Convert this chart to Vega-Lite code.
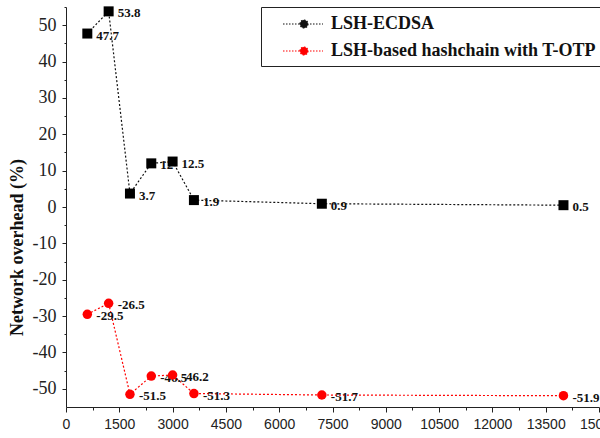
{
  "$schema": "https://vega.github.io/schema/vega-lite/v6.json",
  "width": 533,
  "height": 400,
  "autosize": "none",
  "padding": {"left": 66, "top": 7, "right": 1, "bottom": 31},
  "background": "white",
  "config": {
    "view": {"stroke": null},
    "axis": {"grid": false, "domainColor": "#222", "tickColor": "#222", "labelColor": "#222", "domainWidth": 1, "tickWidth": 1}
  },
  "data": {
    "values": [
      {"x": 600, "y": 47.7, "series": "LSH-ECDSA"},
      {"x": 1200, "y": 53.8, "series": "LSH-ECDSA"},
      {"x": 1800, "y": 3.7, "series": "LSH-ECDSA"},
      {"x": 2400, "y": 12, "series": "LSH-ECDSA"},
      {"x": 3000, "y": 12.5, "series": "LSH-ECDSA"},
      {"x": 3600, "y": 1.9, "series": "LSH-ECDSA"},
      {"x": 7200, "y": 0.9, "series": "LSH-ECDSA"},
      {"x": 14000, "y": 0.5, "series": "LSH-ECDSA"},
      {"x": 600, "y": -29.5, "series": "LSH-based hashchain with T-OTP"},
      {"x": 1200, "y": -26.5, "series": "LSH-based hashchain with T-OTP"},
      {"x": 1800, "y": -51.5, "series": "LSH-based hashchain with T-OTP"},
      {"x": 2400, "y": -46.5, "series": "LSH-based hashchain with T-OTP"},
      {"x": 3000, "y": -46.2, "series": "LSH-based hashchain with T-OTP"},
      {"x": 3600, "y": -51.3, "series": "LSH-based hashchain with T-OTP"},
      {"x": 7200, "y": -51.7, "series": "LSH-based hashchain with T-OTP"},
      {"x": 14000, "y": -51.9, "series": "LSH-based hashchain with T-OTP"}
    ]
  },
  "resolve": {"axis": {"x": "independent", "y": "independent"}},
  "layer": [
    {
      "mark": {"type": "line", "strokeDash": [2, 2], "strokeWidth": 1.2},
      "encoding": {
        "x": {
          "field": "x", "type": "quantitative",
          "scale": {"domain": [0, 15000], "nice": false, "zero": false},
          "axis": {"orient": "bottom", "values": [0, 1500, 3000, 4500, 6000, 7500, 9000, 10500, 12000, 13500, 15000], "tickSize": 5, "labelFont": "Liberation Sans", "labelFontSize": 14, "labelPadding": 5, "labelFlush": false, "labelOverlap": false, "title": null, "labelExpr": "'' + datum.value"}
        },
        "y": {
          "field": "y", "type": "quantitative",
          "scale": {"domain": [-55, 55], "nice": false, "zero": false},
          "axis": {"orient": "left", "values": [-50, -40, -30, -20, -10, 0, 10, 20, 30, 40, 50], "tickSize": 4, "labelFont": "Liberation Serif", "labelFontSize": 18, "labelPadding": 6, "labelExpr": "'' + datum.value", "title": "Network overhead (%)", "titleFont": "Liberation Serif", "titleFontSize": 18, "titleFontWeight": "bold", "titleColor": "#111", "titleAngle": -90, "titleX": -49, "titleY": 240, "titleAlign": "center", "titleBaseline": "middle", "titleLimit": 400}
        },
        "color": {
          "field": "series", "type": "nominal",
          "scale": {"domain": ["LSH-ECDSA", "LSH-based hashchain with T-OTP"], "range": ["#111111", "#ff0000"]},
          "legend": {
            "orient": "none", "legendX": 195, "legendY": 0, "title": null,
            "symbolType": "M0.5,0H4.5M2.2,0A0.4,0.4,0,1,1,3.0,0A0.4,0.4,0,1,1,2.2,0Z",
            "symbolSize": 400, "symbolStrokeWidth": 1.2, "symbolDash": [1.5, 1.5],
            "labelFont": "Liberation Serif", "labelFontSize": 18, "labelFontWeight": "bold", "labelColor": "#111", "labelLimit": 400, "labelOffset": 42,
            "strokeColor": "#222", "fillColor": "white", "padding": 6, "rowPadding": 7,
            "encode": {"symbols": {"update": {"fill": {"scale": "color", "field": "value"}, "stroke": {"scale": "color", "field": "value"}}}}
          }
        }
      }
    },
    {
      "mark": {"type": "text", "align": "left", "baseline": "middle", "dx": 9, "dy": 2, "font": "Liberation Serif", "fontSize": 13, "fontWeight": "bold", "color": "#111"},
      "encoding": {
        "x": {"field": "x", "type": "quantitative", "axis": null},
        "y": {"field": "y", "type": "quantitative", "axis": null},
        "text": {"field": "y", "type": "nominal"}
      }
    },
    {
      "transform": [{"filter": "datum.series === 'LSH-ECDSA'"}],
      "mark": {"type": "point", "shape": "square", "filled": true, "size": 100, "opacity": 1, "color": "#000000"},
      "encoding": {
        "x": {"field": "x", "type": "quantitative", "axis": null},
        "y": {"field": "y", "type": "quantitative", "axis": null}
      }
    },
    {
      "transform": [{"filter": "datum.series !== 'LSH-ECDSA'"}],
      "mark": {"type": "point", "shape": "circle", "filled": true, "size": 90, "opacity": 1, "color": "#ff0000"},
      "encoding": {
        "x": {"field": "x", "type": "quantitative", "axis": null},
        "y": {"field": "y", "type": "quantitative", "axis": null}
      }
    },
    {
      "mark": {"type": "point", "opacity": 0},
      "encoding": {
        "x": {"field": "x", "type": "quantitative", "axis": {"orient": "bottom", "values": [750, 2250, 3750, 5250, 6750, 8250, 9750, 11250, 12750, 14250], "labels": false, "domain": false, "tickSize": 3, "title": null}},
        "y": {"field": "y", "type": "quantitative", "axis": {"orient": "left", "values": [-45, -35, -25, -15, -5, 5, 15, 25, 35, 45, 55], "labels": false, "domain": false, "tickSize": 2, "title": null}}
      }
    }
  ]
}
